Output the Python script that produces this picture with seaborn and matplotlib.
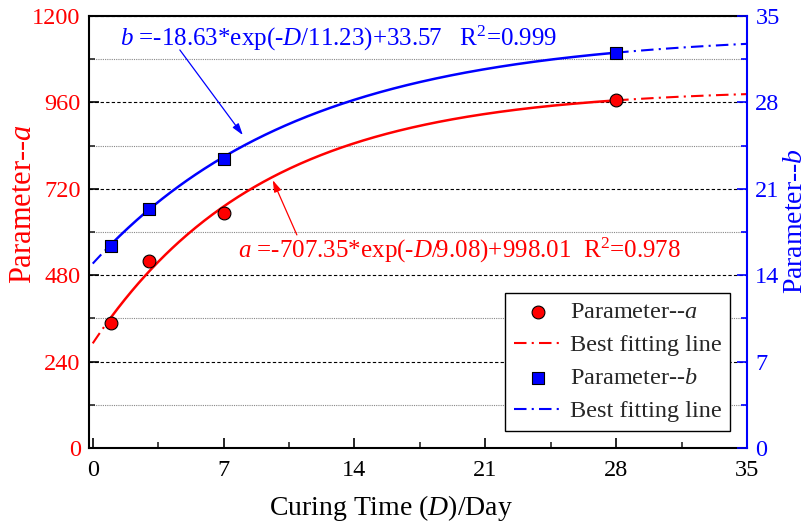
import numpy as np
import matplotlib
matplotlib.use("Agg")
import matplotlib.pyplot as plt
import seaborn as sns
from matplotlib.ticker import MultipleLocator, FixedLocator

# Measured parameters at each curing age
curing_days = [1, 3, 7, 28]
param_a = [348, 520, 653, 966]
param_b = [16.4, 19.4, 23.4, 32.0]

# Exponential fits: y = A*exp(-D/t) + y0
fit_a = {"A": -707.35, "t": 9.08, "y0": 998.01, "r2": 0.978}
fit_b = {"A": -18.63, "t": 11.23, "y0": 33.57, "r2": 0.999}

x_ticks = [0, 7, 14, 21, 28, 35]
a_ticks = [0, 240, 480, 720, 960, 1200]
b_ticks = [0, 7, 14, 21, 28, 35]

RED = "#ff0000"
BLUE = "#0000ff"

sns.set_style("ticks")
plt.rcParams["font.family"] = ["Liberation Serif", "DejaVu Serif"]
plt.rcParams["mathtext.fontset"] = "custom"
plt.rcParams["mathtext.rm"] = "Liberation Serif"
plt.rcParams["mathtext.it"] = "Liberation Serif:italic"
plt.rcParams["mathtext.bf"] = "Liberation Serif:bold"


def model(p, d):
    return p["A"] * np.exp(-d / p["t"]) + p["y0"]


fig = plt.figure(figsize=(8.07, 5.28), dpi=100)
ax = fig.add_axes([89 / 807, 1 - 448 / 528, (747 - 89) / 807, (448 - 16) / 528])
ax2 = ax.twinx()

d_mid = np.linspace(curing_days[0], curing_days[-1], 300)
d_lo = np.linspace(0, curing_days[0], 20)
d_hi = np.linspace(curing_days[-1], 35, 80)
dash_dot = (0, (6, 2.5, 1, 2.5))

# Parameter a on the left axis
sns.lineplot(x=d_mid, y=model(fit_a, d_mid), ax=ax, color=RED, lw=1.8, sort=False)
sns.lineplot(x=d_lo, y=model(fit_a, d_lo), ax=ax, color=RED, lw=1.5,
             linestyle=dash_dot, sort=False)
sns.lineplot(x=d_hi, y=model(fit_a, d_hi), ax=ax, color=RED, lw=1.5,
             linestyle=dash_dot, sort=False)
sns.scatterplot(x=curing_days, y=param_a, ax=ax, color=RED, marker="o", s=85,
                edgecolor="black", linewidth=0.8, zorder=5)

# Parameter b on the right axis
sns.lineplot(x=d_mid, y=model(fit_b, d_mid), ax=ax2, color=BLUE, lw=1.8, sort=False)
sns.lineplot(x=d_lo, y=model(fit_b, d_lo), ax=ax2, color=BLUE, lw=1.5,
             linestyle=dash_dot, sort=False)
sns.lineplot(x=d_hi, y=model(fit_b, d_hi), ax=ax2, color=BLUE, lw=1.5,
             linestyle=dash_dot, sort=False)
sns.scatterplot(x=curing_days, y=param_b, ax=ax2, color=BLUE, marker="s", s=65,
                edgecolor="black", linewidth=0.8, zorder=5)

# Axis ranges and ticks
ax.set_xlim(-0.2, 35)
ax.set_ylim(a_ticks[0], a_ticks[-1])
ax2.set_ylim(b_ticks[0], b_ticks[-1])
ax.xaxis.set_major_locator(FixedLocator(x_ticks))
ax.xaxis.set_minor_locator(MultipleLocator(3.5))
ax.yaxis.set_major_locator(FixedLocator(a_ticks))
ax.yaxis.set_minor_locator(MultipleLocator(120))
ax2.yaxis.set_major_locator(FixedLocator(b_ticks))
ax2.yaxis.set_minor_locator(MultipleLocator(3.5))
ax.set_xticklabels([str(v) for v in x_ticks])
ax.set_yticklabels([str(v) for v in a_ticks])
ax2.set_yticklabels([str(v) for v in b_ticks])

ax.tick_params(axis="x", which="major", direction="in", length=7, width=1.2,
               labelsize=17.5, pad=9, colors="black", top=False)
ax.tick_params(axis="x", which="minor", direction="in", length=4, width=1.2, top=False)
ax.tick_params(axis="y", which="major", direction="in", length=7, width=1.2,
               labelsize=17.5, pad=6, color="black", labelcolor=RED, right=False)
ax.tick_params(axis="y", which="minor", direction="in", length=4, width=1.2, right=False)
ax2.tick_params(axis="y", which="major", direction="in", length=7, width=1.2,
                labelsize=17.5, pad=6, color=BLUE, labelcolor=BLUE)
ax2.tick_params(axis="y", which="minor", direction="in", length=4, width=1.2, color=BLUE)

# Horizontal reference lines
ax.grid(False)
ax2.grid(False)
ax.grid(axis="y", which="major", color="black", linestyle=(0, (3, 2)), lw=0.8)
ax.grid(axis="y", which="minor", color="#888888", linestyle=(0, (1, 1)), lw=0.8)

# Spines
for side in ["left", "bottom", "top"]:
    ax.spines[side].set_color("black")
    ax.spines[side].set_linewidth(1.5)
ax.spines["right"].set_visible(False)
for side in ["left", "bottom", "top"]:
    ax2.spines[side].set_visible(False)
ax2.spines["right"].set_color(BLUE)
ax2.spines["right"].set_linewidth(1.5)

# Axis titles
ax.set_xlabel("Curing Time ($D$)/Day", fontsize=20, color="black")
ax.xaxis.set_label_coords(0.459, -0.104)
ax.set_ylabel("Parameter--$a$", fontsize=22, color=RED)
ax.yaxis.set_label_coords(-0.077, 0.565)
ax2.set_ylabel("Parameter--$b$", fontsize=20, color=BLUE, rotation=90)
ax2.yaxis.set_label_coords(1.055, 0.525)

# Fit equations with arrows
ax2.text(1.45, 32.6,
         f"$b$ ={fit_b['A']}*exp(-$D$/{fit_b['t']})+{fit_b['y0']}   R$^2$={fit_b['r2']}",
         color=BLUE, fontsize=18, ha="left", va="baseline")
ax2.annotate("", xy=(8.03, 25.35), xytext=(4.66, 32.25),
             arrowprops=dict(arrowstyle="-|>,head_length=0.7,head_width=0.22",
                             color=BLUE, lw=0.9, shrinkA=0, shrinkB=0))
ax.text(7.76, 530,
        f"$a$ ={fit_a['A']}*exp(-$D$/{fit_a['t']})+{fit_a['y0']}  R$^2$={fit_a['r2']}",
        color=RED, fontsize=18, ha="left", va="baseline")
ax.annotate("", xy=(9.63, 744), xytext=(10.92, 592),
            arrowprops=dict(arrowstyle="-|>,head_length=0.7,head_width=0.22",
                            color=RED, lw=0.9, shrinkA=0, shrinkB=0))

# Legend
for a_ in (ax, ax2):
    if a_.get_legend() is not None:
        a_.get_legend().remove()
h_a = [ax.collections[-1], ax.lines[1]]
h_b = [ax2.collections[-1], ax2.lines[1]]
labels = ["Parameter--$a$", "Best fitting line", "Parameter--$b$", "Best fitting line"]
leg = ax2.legend(h_a + h_b, labels,
                 loc="upper right", bbox_to_anchor=(0.974, 0.359), borderaxespad=0,
                 fontsize=17.5, frameon=True, fancybox=False, framealpha=1,
                 edgecolor="black", handlelength=2.0, handletextpad=0.3,
                 labelspacing=0.45, borderpad=0.35)
leg.get_frame().set_linewidth(1.0)
leg.set_zorder(10)

fig.savefig("out.png", dpi=100)
